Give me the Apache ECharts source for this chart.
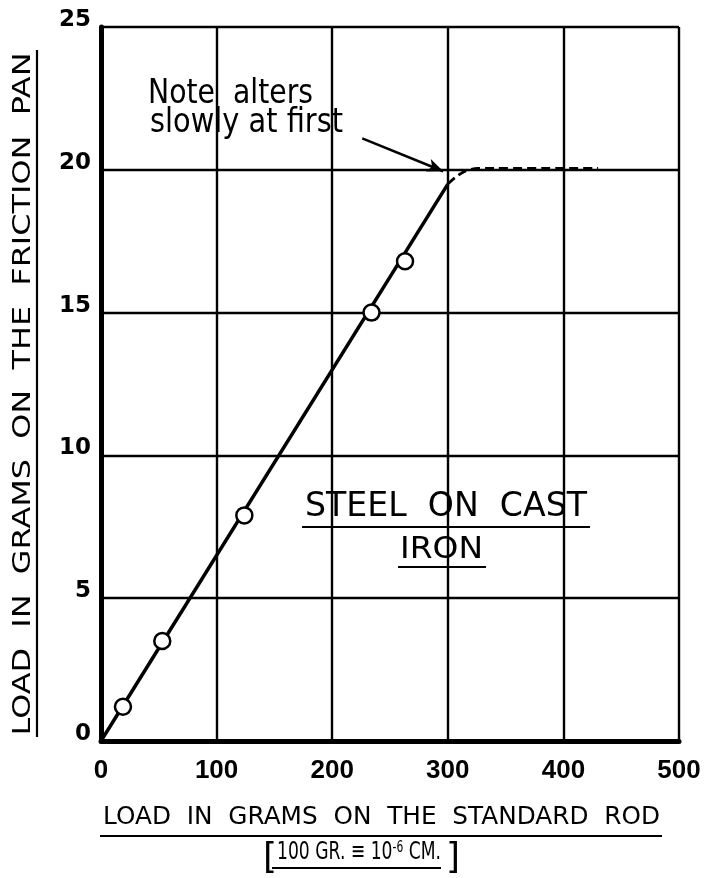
<!DOCTYPE html>
<html>
<head>
<meta charset="utf-8">
<script src="https://cdn.jsdelivr.net/npm/echarts@6/dist/echarts.min.js"></script>
<style>
  html, body { margin: 0; padding: 0; background: #fff; }
  #chart { width: 704px; height: 878px; }
</style>
</head>
<body>
<div id="chart"></div>
<script>
// observed points (load on standard rod, load on friction pan), grams
var rodLoad = [19, 53, 124, 234, 263];
var panLoad = [1.2, 3.5, 7.9, 15.0, 16.8];
// hand drawn line: straight part, then dashed bend levelling at 20
var fitX = [0, 300];
var fitY = [0, 19.5];
var bendX = [300, 307, 315, 326, 430];
var bendY = [19.5, 19.75, 19.95, 20.05, 20.05];
// axes
var xTicks = [0, 100, 200, 300, 400, 500];
var yTicks = [0, 5, 10, 15, 20, 25];

var FONT = 'DejaVu Sans';
var chart = echarts.init(document.getElementById('chart'));

// helper: horizontal scale so a text fills the width it has in the drawing
var ctx = document.createElement('canvas').getContext('2d');
function textWidth(txt, size) {
  ctx.font = size + 'px "' + FONT + '"';
  return ctx.measureText(txt).width;
}
function fitScale(txt, size, width) {
  return width / textWidth(txt, size);
}

function pairs(xs, ys) {
  var out = [];
  for (var i = 0; i < xs.length; i++) out.push([xs[i], ys[i]]);
  return out;
}

var xTitle = 'LOAD  IN  GRAMS  ON  THE  STANDARD  ROD';
var yTitle = 'LOAD  IN  GRAMS  ON  THE  FRICTION  PAN';
var note1 = 'Note  alters';
var note2 = 'slowly at first';
var label1 = 'STEEL  ON  CAST';
var label2 = 'IRON';

// second line of x title: 100 GR. = 10^-6 CM.
var unitA = '100 GR. \u2261 10';
var unitSup = '-6';
var unitB = ' CM.';
var unitW = textWidth(unitA, 24) + textWidth(unitSup, 15) + textWidth(unitB, 24);

function txt(x, y, s, size, width) {
  return {
    type: 'text', x: x, y: y,
    scaleX: width ? fitScale(s, size, width) : 1,
    style: {
      text: s, fill: '#000', font: size + 'px "' + FONT + '"',
      align: 'left', verticalAlign: 'middle'
    }
  };
}
function rule(x1, y1, x2, y2) {
  return { type: 'line', shape: { x1: x1, y1: y1, x2: x2, y2: y2 }, style: { stroke: '#000', lineWidth: 2.2 } };
}

var option = {
  backgroundColor: '#fff',
  animation: false,
  grid: { left: 101, right: 25, top: 27, bottom: 137 },
  xAxis: {
    type: 'value',
    min: xTicks[0],
    max: xTicks[xTicks.length - 1],
    interval: xTicks[1] - xTicks[0],
    axisLine: { show: true, onZero: false, lineStyle: { color: '#000', width: 5 } },
    axisTick: { show: false },
    axisLabel: {
      margin: 17, color: '#000', fontFamily: '"Liberation Sans Narrow", "Liberation Sans"',
      fontSize: 26, fontWeight: 'bold'
    },
    splitLine: { show: true, lineStyle: { color: '#000', width: 2.4 } }
  },
  yAxis: {
    type: 'value',
    min: yTicks[0],
    max: yTicks[yTicks.length - 1],
    interval: yTicks[1] - yTicks[0],
    axisLine: { show: true, onZero: false, lineStyle: { color: '#000', width: 5 } },
    axisTick: { show: false },
    axisLabel: {
      margin: 10, color: '#000', fontFamily: FONT, fontSize: 23, fontWeight: 'bold',
      verticalAlign: 'bottom', lineHeight: 14
    },
    splitLine: { show: true, lineStyle: { color: '#000', width: 2.4 } }
  },
  series: [
    {
      type: 'line',
      data: pairs(fitX, fitY),
      showSymbol: false,
      lineStyle: { color: '#000', width: 3.5 },
      z: 3,
      silent: true,
      markLine: {
        silent: true,
        symbol: ['none', 'arrow'],
        symbolSize: [10, 16],
        label: { show: false },
        lineStyle: { color: '#000', width: 2.5, type: 'solid' },
        data: [[{ coord: [226, 21.1] }, { coord: [296, 19.95] }]]
      }
    },
    {
      type: 'line',
      data: pairs(bendX, bendY),
      showSymbol: false,
      smooth: 0.3,
      lineStyle: { color: '#000', width: 2.8, type: [9, 5] },
      z: 3,
      silent: true
    },
    {
      type: 'scatter',
      data: pairs(rodLoad, panLoad),
      symbol: 'circle',
      symbolSize: 16,
      itemStyle: { color: '#fff', borderColor: '#000', borderWidth: 2.5, opacity: 1 },
      z: 5
    }
  ],
  graphic: [
    // y axis title, rotated
    {
      type: 'text', x: 23, y: 394, rotation: Math.PI / 2,
      scaleX: fitScale(yTitle, 25, 683),
      style: {
        text: yTitle, fill: '#000', font: '25px "' + FONT + '"',
        align: 'center', verticalAlign: 'middle'
      }
    },
    rule(37, 50, 37, 737),
    // x axis title
    txt(103, 818, xTitle, 24, 557),
    rule(100, 836, 662, 836),
    // [100 GR. = 10^-6 CM.]
    txt(263, 859, '[', 36),
    {
      type: 'text', x: 277, y: 853,
      scaleX: 164 / unitW,
      style: {
        text: '{t|' + unitA + '}{s|' + unitSup + '}{t|' + unitB + '}',
        align: 'left', verticalAlign: 'middle',
        rich: {
          t: { fontFamily: FONT, fontSize: 24, fill: '#000', verticalAlign: 'bottom' },
          s: { fontFamily: FONT, fontSize: 15, fill: '#000', verticalAlign: 'top' }
        }
      }
    },
    rule(272, 868, 441, 868),
    txt(446, 859, ']', 36),
    // note near the bend
    txt(148, 94, note1, 34, 165),
    txt(150, 123, note2, 34, 193),
    // material label
    txt(305, 507, label1, 34, 282),
    rule(302, 527, 590, 527),
    txt(400, 550, label2, 30, 83),
    rule(398, 567, 486, 567)
  ]
};

chart.setOption(option);
</script>
</body>
</html>
